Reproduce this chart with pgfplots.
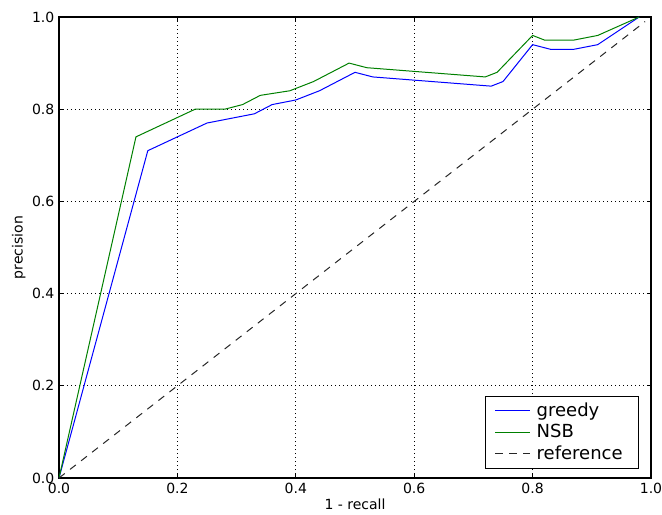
\documentclass[border=0pt]{standalone}
\usepackage{fontspec}
\setmainfont{DejaVu Sans}
\usepackage{pgfplots}
\pgfplotsset{compat=1.18}

\begin{document}
\begin{tikzpicture}
\begin{axis}[
    scale only axis, width=444pt, height=345.75pt,
    xmin=0, xmax=1, ymin=0, ymax=1,
    xtick={0,0.2,...,1.0}, ytick={0,0.2,...,1.0},
    /pgf/number format/.cd, fixed, fixed zerofill, precision=1, assume math mode=true,
    /pgfplots/.cd,
    tick label style={font=\fontsize{10.5}{12}\selectfont},
    label style={font=\fontsize{10.5}{12}\selectfont},
    xlabel={1 - recall}, ylabel={precision},
    xlabel style={yshift=2.5pt}, ylabel style={yshift=-2pt},
    grid=major, major grid style={black, dash pattern=on 0.8pt off 2.2pt, line width=0.6pt},
    tick align=inside, major tick length=3pt,
    axis line style={line width=0.9pt},
    every tick/.style={black, line width=0.6pt},
    legend style={at={(0.98,0.02)}, anchor=south east, draw=black, line width=0.8pt,
      font=\fontsize{13.5}{15}\selectfont, row sep=0.5pt, inner xsep=7pt, inner ysep=3pt,
      nodes={inner xsep=5pt, inner ysep=2pt}},
    legend cell align=left,
    legend image code/.code={\draw[#1] (0cm,0cm) -- (0.9cm,0cm);},
]
\addplot[color={rgb,1:red,0;green,0;blue,1}, line width=0.75pt] coordinates {
  (0,0) (0.15,0.71) (0.20,0.74) (0.25,0.77) (0.33,0.79) (0.36,0.81) (0.40,0.82)
  (0.44,0.84) (0.50,0.88) (0.53,0.87) (0.73,0.85) (0.75,0.86) (0.80,0.94)
  (0.83,0.93) (0.87,0.93) (0.91,0.94) (0.98,1.0) };
\addlegendentry{greedy}
\addplot[color={rgb,1:red,0;green,0.5;blue,0}, line width=0.75pt] coordinates {
  (0,0) (0.13,0.74) (0.23,0.80) (0.28,0.80) (0.31,0.81) (0.34,0.83) (0.39,0.84)
  (0.43,0.86) (0.49,0.90) (0.52,0.89) (0.72,0.87) (0.74,0.88) (0.80,0.96)
  (0.82,0.95) (0.87,0.95) (0.91,0.96) (0.98,1.0) };
\addlegendentry{NSB}
\addplot[black!85, line width=0.75pt, dash pattern=on 5.5pt off 5pt] coordinates {
  (0,0) (0.99,0.99) };
\addlegendentry{reference}
\end{axis}
\pgfresetboundingbox
\path ([shift={(-44.25pt,-27pt)}]current axis.south west) rectangle
      ([shift={(8.25pt,12.75pt)}]current axis.north east);
\end{tikzpicture}
\end{document}
